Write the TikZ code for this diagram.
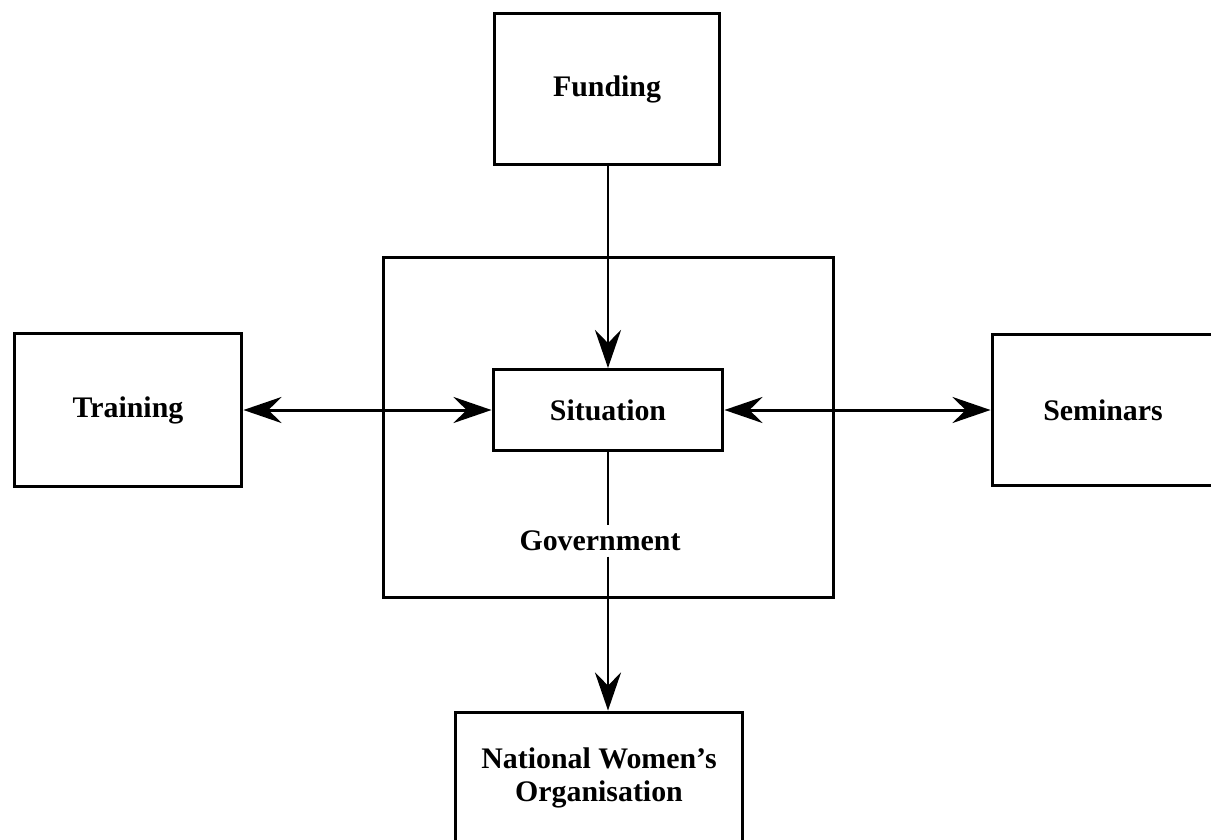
\documentclass[tikz,border=0pt]{standalone}
\usepackage{fontspec}
\setmainfont{Liberation Serif}
\usetikzlibrary{arrows.meta}

\tikzset{
  caja/.style={draw, line width=1.7pt, inner sep=0pt, align=center,
    font=\fontsize{17}{16}\selectfont\bfseries},
  flecha/.style={line width=1.7pt,
    -{Stealth[length=0.76cm, width=0.52cm, inset=0.26cm]}},
  doble/.style={line width=1.7pt,
    {Stealth[length=0.76cm, width=0.52cm, inset=0.26cm]}-{Stealth[length=0.76cm, width=0.52cm, inset=0.26cm]}}
}

\begin{document}
\begin{tikzpicture}[x=0.02cm, y=-0.02cm]

% Marco
\useasboundingbox (0,0) rectangle (1211,839);

% Cajas
\node[caja, minimum width=9.02cm, minimum height=6.82cm] (gob) at (608.5,427.5) {};
\node[caja, minimum width=4.5cm, minimum height=3.04cm] (fondos) at (607,89) {\raisebox{-4pt}{Funding}};
\node[caja, minimum width=4.56cm, minimum height=3.06cm] (formacion) at (128,410) {Training};
\node[caja, minimum width=4.44cm, minimum height=3.04cm] (seminarios) at (1103,410) {Seminars};
\node[caja, minimum width=4.6cm, minimum height=1.62cm] (situacion) at (608,410) {Situation};
\node[caja, minimum width=5.76cm, minimum height=2.64cm] (mujeres) at (599,778)
  {National Women's\\[3pt]Organisation};

% Texto del gobierno
\node[font=\fontsize{17}{21}\selectfont\bfseries, inner sep=3pt] (goblabel) at (600,541) {Government};

% Flechas
\draw[flecha] (fondos.south -| situacion.north) -- (situacion.north);
\draw[doble] (formacion.east) -- (situacion.west);
\draw[doble] (situacion.east) -- (seminarios.west);
\draw[line width=1.7pt] (situacion.south) -- (situacion.south |- goblabel.north);
\draw[flecha] (situacion.south |- goblabel.south) -- (mujeres.north -| situacion.south);

\end{tikzpicture}
\end{document}
